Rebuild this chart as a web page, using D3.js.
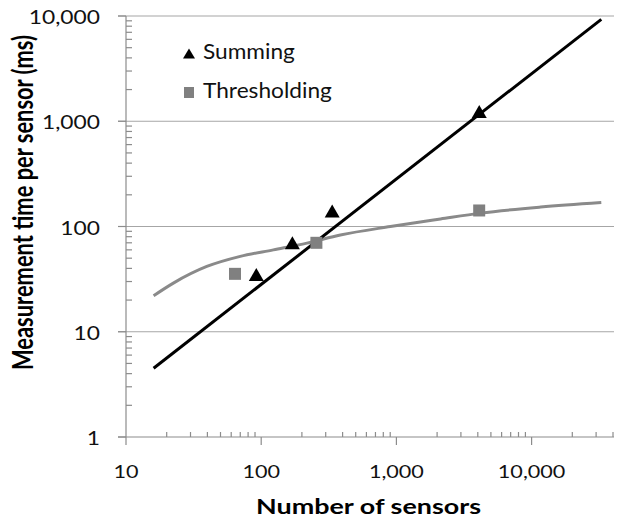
<!DOCTYPE html>
<html>
<head>
<meta charset="utf-8">
<script src="https://cdn.jsdelivr.net/npm/d3@7"></script>
<style>
body { margin: 0; background: #fff; }
svg text { font-family: Lato, "Open Sans", sans-serif; }
</style>
</head>
<body>
<svg id="chart" width="624" height="526"></svg>
<script>
// measured points
var summingX = [92, 170, 335, 4100];
var summingY = [35, 70, 140, 1240];
var threshX = [64, 256, 4096];
var threshY = [35.5, 70, 142];

// fitted curves
var sumFitX = [16, 32768];
var sumFitY = [4.5, 9300];
var thrFitX = [16, 22.4, 39.6, 70, 123, 218, 385, 903, 2120, 4190, 11660, 32768];
var thrFitY = [22, 29, 41.7, 52, 60, 69.5, 83, 100, 118, 134, 153, 169];

var xTicks = [10, 100, 1000, 10000];
var yTicks = [1, 10, 100, 1000, 10000];
var seriesNames = ['Summing', 'Thresholding'];

(function() {
var svg = d3.select('#chart');
var pLeft = 126, pTop = 16, pRight = 613, pBottom = 437;

var x = d3.scaleLog().domain([10, 40000]).range([pLeft, pRight]);
var y = d3.scaleLog().domain([1, 10000]).range([pBottom, pTop]);
var fmt = d3.format(',');

// minor ticks
var xMinor = [];
for (var k = 10; k < 40000; k *= 10)
	for (var m = 2; m <= 9; m++) if (k * m <= 40000) xMinor.push(k * m);
var yMinor = [];
for (var k = 1; k < 10000; k *= 10)
	for (var m = 2; m <= 9; m++) yMinor.push(k * m);

svg.append('g').selectAll('line')
	.data(yTicks.slice(1))
	.enter()
	.append('line')
	.attr('x1', pLeft - 8).attr('x2', pRight + 1)
	.attr('y1', function(d) {return y(d);})
	.attr('y2', function(d) {return y(d);})
	.attr('stroke', '#a6a6a6')
	.attr('stroke-width', 1.2);

var axes = svg.append('g').attr('stroke', '#8c8c8c').attr('stroke-width', 1.2);
axes.append('line').attr('x1', pLeft).attr('x2', pLeft).attr('y1', pTop).attr('y2', pBottom);
axes.append('line').attr('x1', pLeft - 8).attr('x2', pRight + 1).attr('y1', pBottom).attr('y2', pBottom);
axes.selectAll('.ymaj').data(yTicks).enter().append('line')
	.attr('x1', pLeft - 8).attr('x2', pLeft)
	.attr('y1', function(d) {return y(d);}).attr('y2', function(d) {return y(d);});
axes.selectAll('.ymin').data(yMinor).enter().append('line')
	.attr('x1', pLeft).attr('x2', pLeft + 6)
	.attr('y1', function(d) {return y(d);}).attr('y2', function(d) {return y(d);});
axes.selectAll('.xmaj').data(xTicks).enter().append('line')
	.attr('x1', function(d) {return x(d);}).attr('x2', function(d) {return x(d);})
	.attr('y1', pBottom).attr('y2', pBottom + 8);
axes.selectAll('.xmin').data(xMinor).enter().append('line')
	.attr('x1', function(d) {return x(d);}).attr('x2', function(d) {return x(d);})
	.attr('y1', pBottom - 5).attr('y2', pBottom);

// tick labels (the reference is a bit stretched sideways)
svg.append('g').selectAll('text')
	.data(yTicks)
	.enter()
	.append('text')
	.attr('transform', function(d) {return 'translate(100,' + (y(d) + 8) + ') scale(1.2,1)';})
	.attr('text-anchor', 'end')
	.attr('font-size', 19)
	.attr('fill', '#111')
	.text(function(d) {return fmt(d);});
svg.append('g').selectAll('text')
	.data(xTicks)
	.enter()
	.append('text')
	.attr('transform', function(d) {return 'translate(' + x(d) + ',478) scale(1.2,1)';})
	.attr('text-anchor', 'middle')
	.attr('font-size', 18)
	.attr('fill', '#111')
	.text(function(d) {return fmt(d);});

// axis titles
svg.append('text')
	.attr('x', 256).attr('y', 514)
	.attr('font-size', 20).attr('font-weight', 'bold')
	.attr('textLength', 225).attr('lengthAdjust', 'spacingAndGlyphs')
	.text('Number of sensors');
svg.append('text')
	.attr('transform', 'translate(33,370) rotate(-90) scale(1,1.25)')
	.attr('font-size', 23).attr('font-weight', 'bold')
	.attr('textLength', 335).attr('lengthAdjust', 'spacingAndGlyphs')
	.text('Measurement time per sensor (ms)');

// curves
var line = d3.line()
	.x(function(d) {return x(d[0]);})
	.y(function(d) {return y(d[1]);})
	.curve(d3.curveMonotoneX);

svg.append('path')
	.attr('d', line(d3.zip(thrFitX, thrFitY)))
	.attr('fill', 'none')
	.attr('stroke', '#8a8a8a')
	.attr('stroke-width', 3);
svg.append('path')
	.attr('d', line(d3.zip(sumFitX, sumFitY)))
	.attr('fill', 'none')
	.attr('stroke', '#000')
	.attr('stroke-width', 3);

// markers
function triangle(w, h) {
	return 'M0,' + (-h / 2) + 'L' + (w / 2) + ',' + (h / 2) + 'L' + (-w / 2) + ',' + (h / 2) + 'Z';
}
svg.append('g').selectAll('path')
	.data(d3.zip(summingX, summingY))
	.enter()
	.append('path')
	.attr('d', triangle(15, 13))
	.attr('transform', function(d) {return 'translate(' + x(d[0]) + ',' + y(d[1]) + ')';})
	.attr('fill', '#000');
svg.append('g').selectAll('rect')
	.data(d3.zip(threshX, threshY))
	.enter()
	.append('rect')
	.attr('x', function(d) {return x(d[0]) - 6;})
	.attr('y', function(d) {return y(d[1]) - 6;})
	.attr('width', 12).attr('height', 12)
	.attr('fill', '#808080');

// legend
var legend = svg.append('g');
legend.append('path').attr('d', triangle(12, 10)).attr('transform', 'translate(189,53.5)').attr('fill', '#000');
legend.append('rect').attr('x', 184).attr('y', 87).attr('width', 10).attr('height', 11).attr('fill', '#808080');
legend.selectAll('text')
	.data(seriesNames)
	.enter()
	.append('text')
	.attr('transform', function(d, i) {return 'translate(203,' + (59 + i * 39) + ') scale(1.08,1)';})
	.attr('font-size', 21)
	.attr('fill', '#111')
	.text(function(d) {return d;});
})();
</script>
</body>
</html>
